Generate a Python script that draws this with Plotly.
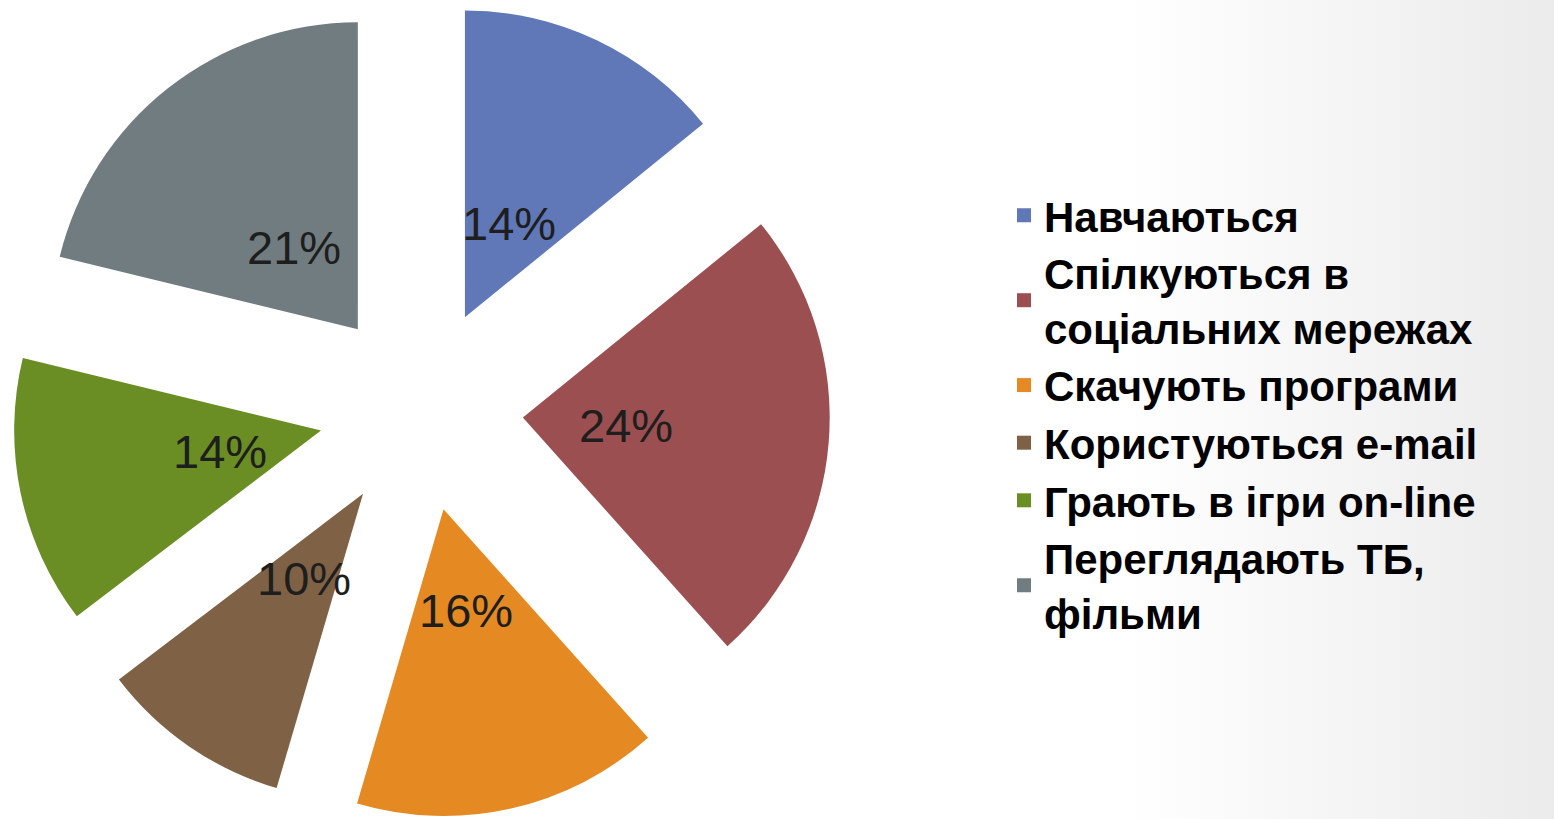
import math
import plotly.graph_objects as go

categories = [
    "Навчаються",
    "Спілкуються в<br>соціальних мережах",
    "Скачують програми",
    "Користуються e-mail",
    "Грають в ігри on-line",
    "Переглядають ТБ,<br>фільми",
]
values = [14, 24, 16, 10, 14, 21]
colors = ["#6077B8", "#9B4F50", "#E58A22", "#7F6245", "#6A8E23", "#717C80"]

W, H = 1554, 819
PULL = 0.333
DOM_X = [12 / W, 830 / W]
DOM_Y = [0.0, 1.0]

fig = go.Figure()

# subtle background gradient
fig.add_trace(go.Scatter(
    x=[0, 1, 1, 0, 0], y=[0, 0, 1, 1, 0], mode="lines", fill="toself",
    line=dict(width=0), showlegend=False, hoverinfo="skip",
    fillgradient=dict(type="horizontal",
                      colorscale=[[0, "#ffffff"], [0.72, "#ffffff"], [1, "#ebebeb"]]),
))

fig.add_trace(go.Pie(
    labels=categories,
    values=values,
    marker=dict(colors=colors, line=dict(width=0)),
    sort=False,
    direction="clockwise",
    rotation=0,
    pull=[PULL] * len(values),
    textinfo="none",
    domain=dict(x=DOM_X, y=DOM_Y),
    hoverinfo="label+percent",
    showlegend=False,
))

# legend entries (square swatches like the original)
for name, col in zip(categories, colors):
    fig.add_trace(go.Scatter(
        x=[None], y=[None], mode="markers", name=name,
        marker=dict(symbol="square", size=14, color=col),
        hoverinfo="skip",
    ))

# data labels placed along each slice's mid-angle (derived from the values)
cx_px = (DOM_X[0] + DOM_X[1]) / 2 * W
cy_px = (1 - (DOM_Y[0] + DOM_Y[1]) / 2) * H
R = min((DOM_X[1] - DOM_X[0]) * W, (DOM_Y[1] - DOM_Y[0]) * H) / (2 * (1 + PULL))
label_r = PULL * R + 0.337 * R
total = sum(values)
cum = 0
for v in values:
    mid = (cum + v / 2) / total * 2 * math.pi
    cum += v
    px = cx_px + label_r * math.sin(mid)
    py = cy_px - label_r * math.cos(mid)
    fig.add_annotation(
        x=px / W, y=1 - py / H, xref="paper", yref="paper",
        text=f"{v}%", showarrow=False, xanchor="center", yanchor="middle",
        font=dict(family="Liberation Sans, Arial, sans-serif", size=47, color="#1e1e1e"),
    )

fig.update_layout(
    width=W, height=H,
    margin=dict(l=0, r=0, t=0, b=0),
    paper_bgcolor="#ffffff",
    plot_bgcolor="rgba(0,0,0,0)",
    xaxis=dict(visible=False, range=[0, 1], domain=[0, 1], fixedrange=True),
    yaxis=dict(visible=False, range=[0, 1], domain=[0, 1], fixedrange=True),
    legend=dict(
        x=1004 / W, xanchor="left", y=1 - 414 / H, yanchor="middle",
        font=dict(family="Liberation Sans, Arial, sans-serif", size=42, color="#000000",
                  weight="bold"),
        bgcolor="rgba(0,0,0,0)", tracegroupgap=0, itemclick=False,
        valign="middle", itemsizing="trace",
    ),
    showlegend=True,
)

fig.write_html(
    "out.html",
    config={"displayModeBar": False},
    post_script="document.body.style.margin='0';document.body.style.overflow='hidden';",
)
